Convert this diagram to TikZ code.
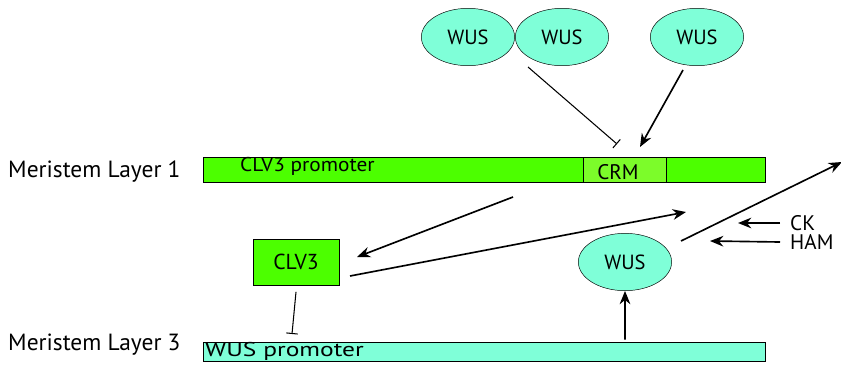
\documentclass[tikz,border=0pt]{standalone}
\usepackage{fontspec}
\setmainfont{PT Sans}
\usetikzlibrary{arrows.meta, shapes.geometric}
\definecolor{layerone}{HTML}{4CFF00}
\definecolor{crmfill}{HTML}{7CFC2A}
\definecolor{wusfill}{HTML}{7FFFD8}

\begin{document}
\begin{tikzpicture}[x=0.03cm, y=-0.03cm,
  wus/.style={ellipse, draw=black, fill=wusfill, minimum width=2.8cm,
              minimum height=1.72cm, inner sep=0pt, font=\fontsize{17.5}{19}\selectfont},
  bar/.style 2 args={rectangle, draw=black, thick, fill=#1, minimum width=16.86cm,
              minimum height=#2, inner sep=0pt},
  lbl/.style={anchor=west, inner sep=0pt, font=\fontsize{17}{19}\selectfont},
  side/.style={anchor=west, inner sep=0pt, font=\fontsize{20}{22}\selectfont},
  act/.style={draw=black, line width=1.4pt, -{Stealth[length=4mm, width=3.2mm]}},
  inh/.style={draw=black, line width=0.9pt, -{Bar[width=3.4mm]}},
]
\useasboundingbox (0,0) rectangle (841,387);
% ================= layer 1: CLV3 promoter ==================================
\node[bar={layerone}{0.75cm}] (clvprom) at (484,169.5) {};
\node[rectangle, draw=black, fill=crmfill, minimum width=2.49cm, minimum height=0.75cm,
      inner sep=0pt] (crm) at (625,169.5) {};
\node[inner sep=0pt, font=\fontsize{18}{20}\selectfont] (crmtext) at (618,172) {CRM};
\node[lbl] (clvtext) at (240,166) {\scalebox{1.07}[1]{CLV3 promoter}};
\node[side] (layer1) at (8,172) {Meristem Layer 1};
% WUS proteins acting on the CRM
\node[wus] (wusa) at (468,37) {WUS};
\node[wus] (wusb) at (562,37) {WUS};
\node[wus] (wusc) at (697,37) {WUS};
\coordinate (pairout) at (528,67);
\coordinate (crmbar) at (617,144);
\coordinate (monoout) at (683,70);
\coordinate (crmtip) at (640,147);
\draw[inh] (pairout) -- (crmbar);
\draw[act] (monoout) -- (crmtip);
% ================= middle: CLV3 peptide and WUS ============================
\node[rectangle, draw=black, fill=layerone, minimum width=2.58cm, minimum height=1.38cm,
      inner sep=0pt, font=\fontsize{18.5}{20}\selectfont] (clv3) at (296,262) {CLV3};
\node[wus] (wusd) at (625,262) {WUS};
\coordinate (promout) at (513,197);
\coordinate (clvin) at (357,257);
\coordinate (clvout) at (350,276);
\coordinate (uptip) at (686,212);
\coordinate (wusout) at (681,241);
\coordinate (edge) at (842,162);
\draw[act] (promout) -- (clvin);
\draw[act] (clvout) -- (uptip);
\draw[act] (wusout) -- (edge);
% inputs from the right
\node[side, font=\fontsize{18}{20}\selectfont] (ck) at (790,223) {CK};
\node[side, font=\fontsize{18}{20}\selectfont] (ham) at (790,242) {HAM};
\coordinate (cktip) at (738,223);
\coordinate (hamtip) at (710,241);
\draw[act] ([xshift=-0.3cm]ck.west) -- (cktip);
\draw[act] ([xshift=-0.3cm]ham.west) -- (hamtip);
% ================= layer 3: WUS promoter ===================================
\node[bar={wusfill}{0.57cm}] (wusprom) at (484,351.5) {};
\node[lbl] (wustext) at (205,351) {\scalebox{1.28}[1]{WUS promoter}};
\node[side] (layer3) at (8,345) {Meristem Layer 3};
\coordinate (clvbar) at (292,334);
\draw[inh] ([yshift=-0.2cm]clv3.south) -- (clvbar);
\draw[act] ([xshift=4.23cm, yshift=0.06cm]wusprom.north) -- (wusd.south);
\end{tikzpicture}
\end{document}
